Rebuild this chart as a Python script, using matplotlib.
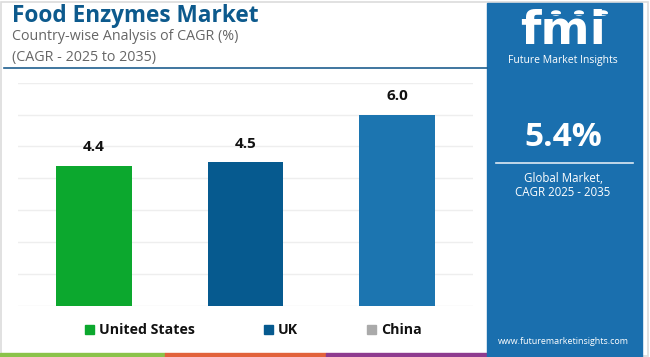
import matplotlib
matplotlib.use("Agg")
import matplotlib.pyplot as plt
from matplotlib.patches import Rectangle, Circle

categories = ["United States", "UK", "China"]
values = [4.4, 4.5, 6.0]
bar_colors = ["#0ca82e", "#065a8f", "#1c75b0"]
legend_colors = ["#0ca82e", "#065a8f", "#aaaaaa"]
yticks = [0, 1, 2, 3, 4, 5, 6, 7]
title = "Food Enzymes Market"
subtitle1 = "Country-wise Analysis of CAGR (%)"
subtitle2 = "(CAGR - 2025 to 2035)"
global_value = "5.4%"

W, H = 650, 357
fig = plt.figure(figsize=(6.5, 3.57), dpi=100)
plt.rcParams['font.family'] = ['Open Sans', 'DejaVu Sans']

def fx(x): return x / W
def fy(y): return 1 - y / H

# outer frame
fig.patches.append(Rectangle((fx(1), fy(356)), fx(647), 354/H, transform=fig.transFigure,
                             fill=False, edgecolor="#dcdcdc", lw=1.2))

ax = fig.add_axes([fx(18), fy(305.7), fx(455), (305.7 - 82.7) / H])
x = list(range(len(categories)))
ax.bar(x, values, width=0.5, color=bar_colors, zorder=3)
ax.set_xlim(-0.5, 2.5)
ax.set_ylim(0, 7)
ax.set_yticks(yticks)
ax.grid(axis="y", color="#eeeeee", lw=1.0, zorder=0)
ax.tick_params(left=False, bottom=False, labelleft=False, labelbottom=False)
for s in ax.spines.values():
    s.set_visible(False)
for xi, v in zip(x, values):
    ax.annotate(f"{v:.1f}", (xi, v), xytext=(0, 8), textcoords="offset points",
                ha="center", va="bottom", fontsize=11, fontweight="bold", color="#111111")

# titles
fig.text(fx(12), fy(16), title, fontsize=16.3, fontweight="bold", color="#0d5a8d", va="center", ha="left")
fig.text(fx(12), fy(37), subtitle1, fontsize=10.3, color="#666666", va="center", ha="left")
fig.text(fx(12), fy(57), subtitle2, fontsize=10.3, color="#666666", va="center", ha="left")
fig.lines.append(plt.Line2D([fx(4), fx(487)], [fy(67.5), fy(67.5)], transform=fig.transFigure,
                            color="#1f5f8f", lw=1.2))

# legend
leg_x = [85, 264, 367]
for lx, name, c in zip(leg_x, categories, legend_colors):
    fig.patches.append(Rectangle((fx(lx), fy(334)), fx(9), 9/H, transform=fig.transFigure,
                                 color=c))
    fig.text(fx(lx + 14), fy(330), name, fontsize=10.2, fontweight="bold", color="#111111",
             va="center", ha="left")

# bottom strip
strip = [(0, 165, "#8bc34a"), (165, 326, "#e2623b"), (326, 487, "#8e3b8f")]
for a, b, c in strip:
    fig.patches.append(Rectangle((fx(a), 0), fx(b - a), 4/H, transform=fig.transFigure, color=c))

# right panel
pc = "#1a6fae"
fig.patches.append(Rectangle((fx(487), 0), fx(155), fy(3), transform=fig.transFigure, color=pc))
cx = 563
fig.text(fx(cx), fy(32), "fmi", fontsize=34, fontweight="bold", color="white",
         ha="center", va="center", family=["DejaVu Sans"])
for yy in range(14, 50, 3):
    fig.lines.append(plt.Line2D([fx(505), fx(622)], [fy(yy), fy(yy)], transform=fig.transFigure,
                                color=pc, lw=0.6))
for ccx in [556, 579, 603]:
    fig.patches.append(Circle((fx(ccx), fy(13)), 5.0/W, transform=fig.transFigure,
                              facecolor="white", edgecolor="none"))
fig.text(fx(cx), fy(61), "Future Market Insights", fontsize=7.5, color="white", ha="center", va="center")
fig.text(fx(cx), fy(137), global_value, fontsize=24, fontweight="bold", color="white", ha="center", va="center")
fig.lines.append(plt.Line2D([fx(496), fx(633)], [fy(163), fy(163)], transform=fig.transFigure,
                            color="white", lw=1.2, alpha=0.85))
fig.text(fx(cx), fy(179), "Global Market,", fontsize=8.3, color="white", ha="center", va="center")
fig.text(fx(cx), fy(193), "CAGR 2025 - 2035", fontsize=8.3, color="white", ha="center", va="center")
fig.text(fx(cx), fy(342), "www.futuremarketinsights.com", fontsize=6.4, color="white", ha="center", va="center")

fig.savefig("out.png", dpi=100)
